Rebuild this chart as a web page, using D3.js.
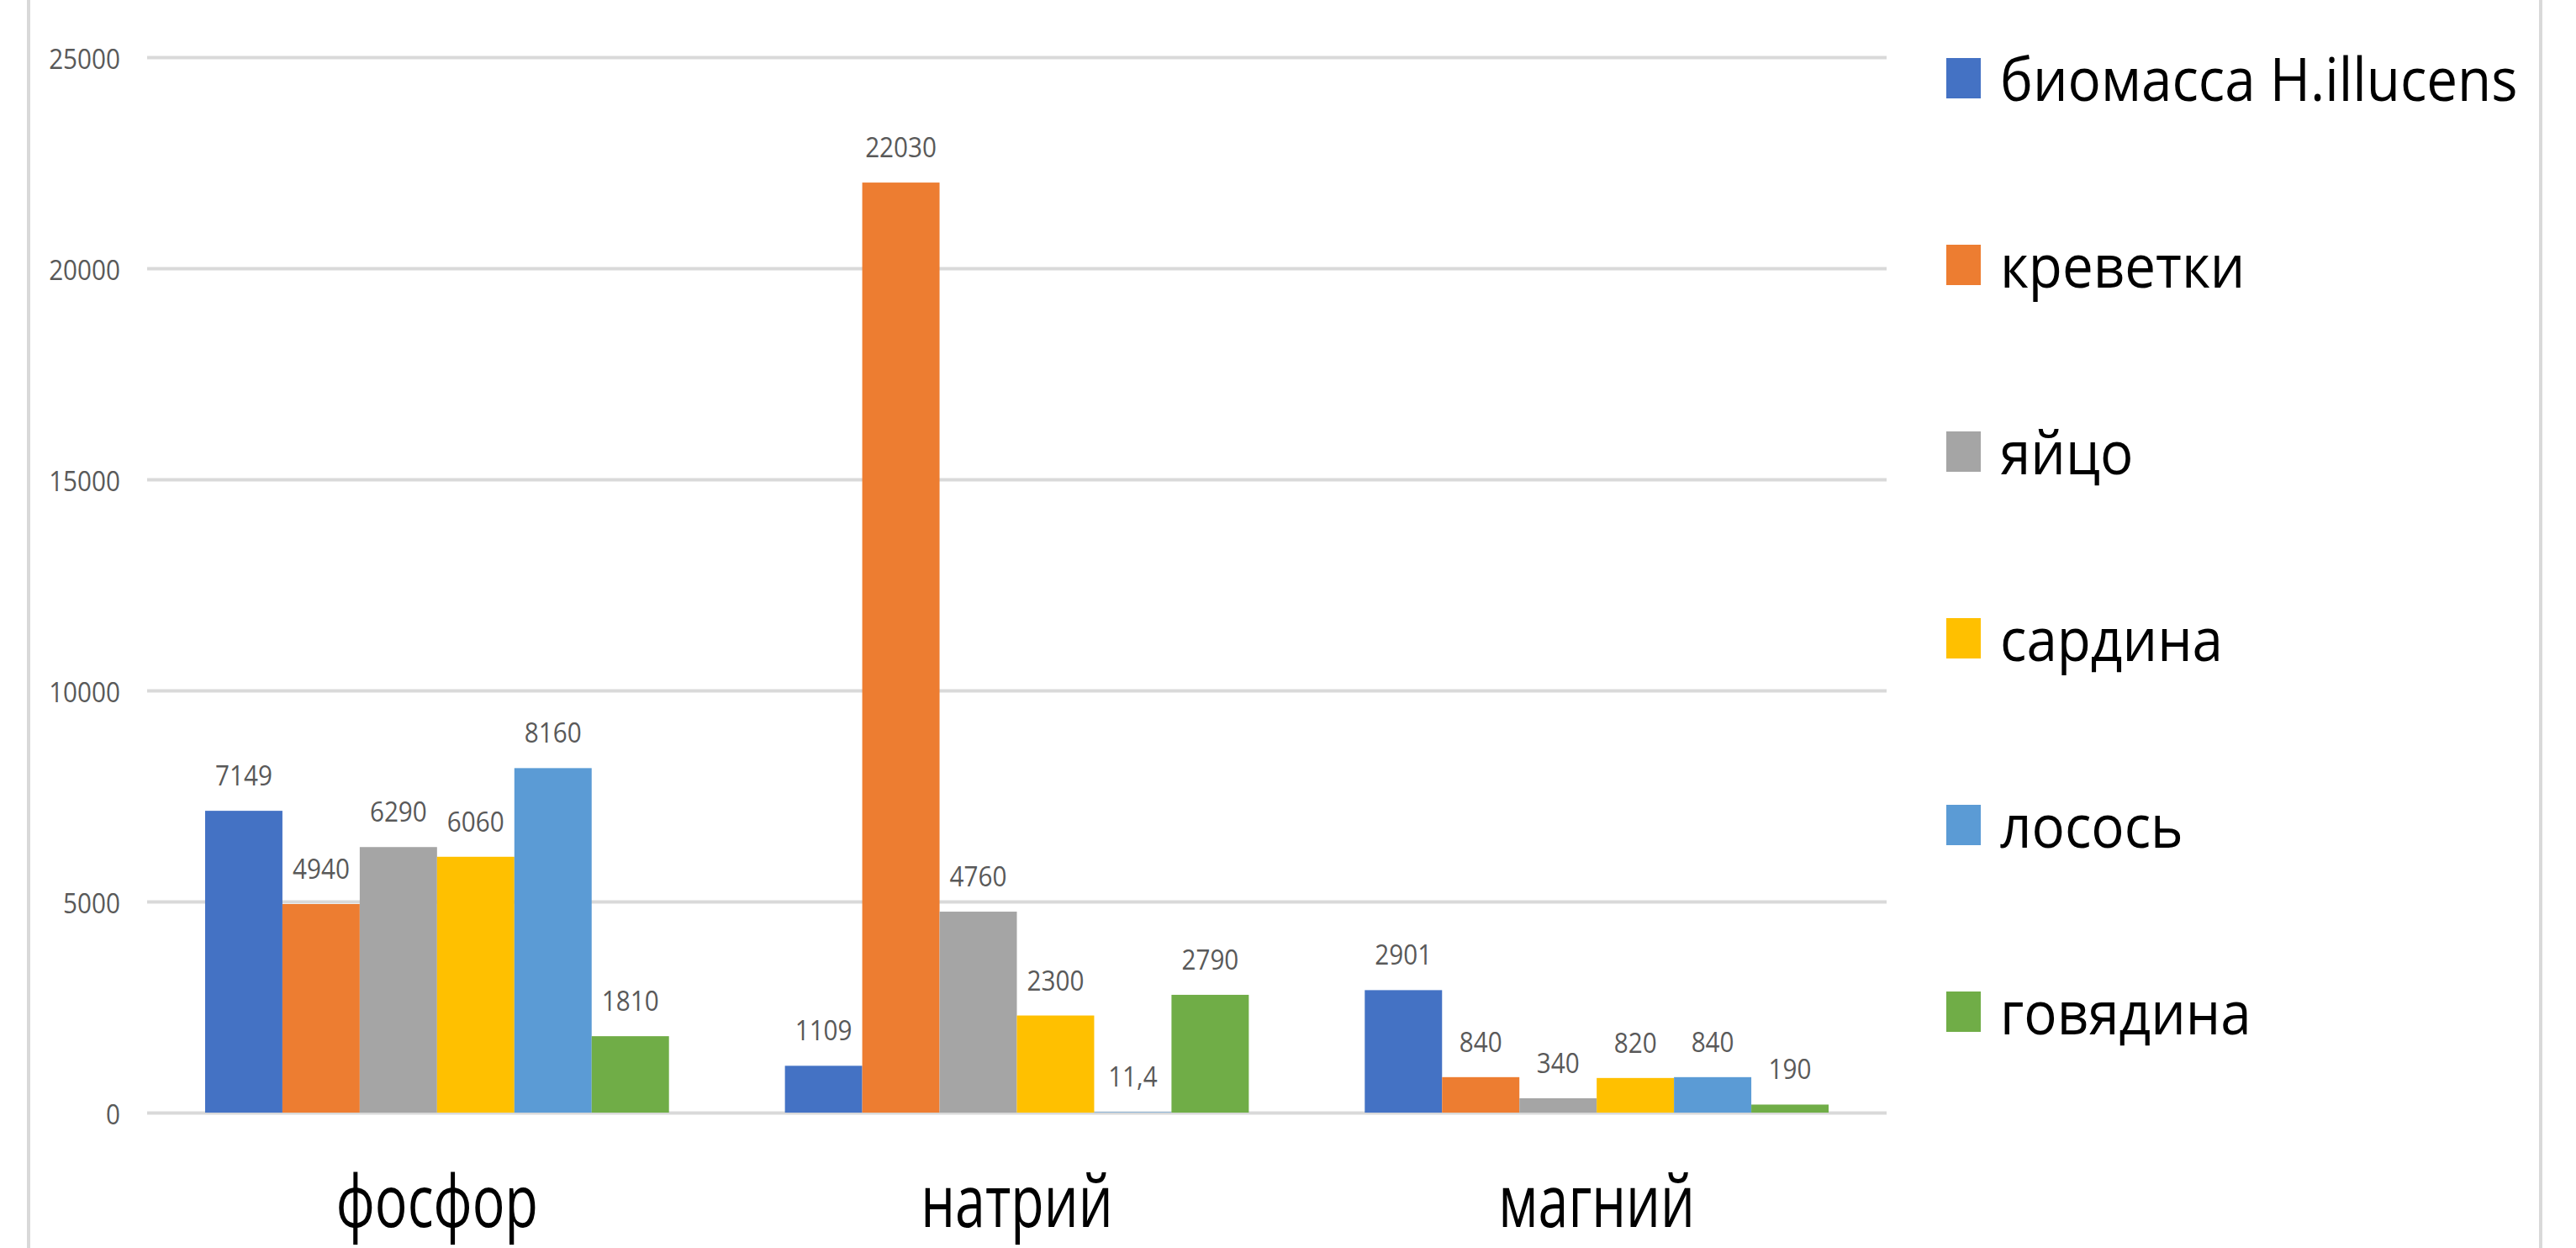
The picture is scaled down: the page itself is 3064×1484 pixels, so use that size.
<!DOCTYPE html>
<html><head><meta charset="utf-8">
<script src="https://cdn.jsdelivr.net/npm/d3@7"></script>
<style>html,body{margin:0;padding:0;background:#fff;} svg{display:block;}</style>
</head><body><svg id="chart" width="3064" height="1484"></svg>
<script>
// ---- data ----
const categories = ["фосфор", "натрий", "магний"];
const seriesNames = ["биомасса H.illucens", "креветки", "яйцо", "сардина", "лосось", "говядина"];
const seriesColors = ["#4472C4", "#ED7D31", "#A5A5A5", "#FFC000", "#5B9BD5", "#70AD47"];
const biomassValues = [7149, 1109, 2901];
const shrimpValues = [4940, 22030, 840];
const eggValues = [6290, 4760, 340];
const sardineValues = [6060, 2300, 820];
const salmonValues = [8160, 11.4, 840];
const beefValues = [1810, 2790, 190];
const yTicks = [0, 5000, 10000, 15000, 20000, 25000];

const seriesValues = [biomassValues, shrimpValues, eggValues, sardineValues, salmonValues, beefValues];

// ---- layout ----
const W = 3064, H = 1484;
const plot = {left: 175, right: 2244, top: 68, bottom: 1323};
const FONT = "'Open Sans', 'Liberation Sans', sans-serif";
const numSize = 33, numSX = 0.9;
const catSize = 86, catSX = 0.75;
const legSize = 72, legSX = 0.91;

const svg = d3.select("#chart");

const x0 = d3.scaleBand().domain(categories).range([plot.left, plot.right]).paddingInner(0).paddingOuter(0);
const x1 = d3.scaleBand().domain(d3.range(seriesNames.length)).range([0, x0.bandwidth()]).paddingInner(0).paddingOuter(0.75);
const y = d3.scaleLinear().domain([0, 25000]).range([plot.bottom, plot.top]);

// chart frame side lines
svg.append("line").attr("x1", 34).attr("x2", 34).attr("y1", 0).attr("y2", H)
  .attr("stroke", "#d9d9d9").attr("stroke-width", 4);
svg.append("line").attr("x1", 3022).attr("x2", 3022).attr("y1", 0).attr("y2", H)
  .attr("stroke", "#d9d9d9").attr("stroke-width", 4);

// gridlines + y tick labels via axis
const yAxis = d3.axisLeft(y).tickValues(yTicks).tickSize(-(plot.right - plot.left)).tickPadding(0).tickFormat(d3.format("d"));
const gy = svg.append("g").attr("transform", `translate(${plot.left},0)`).call(yAxis);
gy.select(".domain").remove();
gy.selectAll(".tick line").attr("stroke", "#d9d9d9").attr("stroke-width", 4);
gy.selectAll(".tick text")
  .attr("x", 0).attr("dy", null).attr("y", 0)
  .attr("font-family", FONT).attr("font-size", numSize).attr("fill", "#595959")
  .attr("text-anchor", "end").attr("dominant-baseline", "central")
  .attr("transform", `translate(${143 - plot.left},0) scale(${numSX},1)`);

// bars
const groups = svg.append("g").selectAll("g").data(categories).join("g")
  .attr("transform", d => `translate(${x0(d)},0)`);

const fmt = v => String(v).replace(".", ",");

groups.selectAll("rect").data((c, ci) => seriesValues.map((vals, si) => ({si, v: vals[ci]})))
  .join("rect")
  .attr("x", d => x1(d.si))
  .attr("width", x1.bandwidth())
  .attr("y", d => y(d.v))
  .attr("height", d => y(0) - y(d.v))
  .attr("fill", d => seriesColors[d.si]);

groups.selectAll("text.lbl").data((c, ci) => seriesValues.map((vals, si) => ({si, v: vals[ci]})))
  .join("text").attr("class", "lbl")
  .attr("transform", d => `translate(${x1(d.si) + x1.bandwidth() / 2},${y(d.v) - 30}) scale(${numSX},1)`)
  .attr("text-anchor", "middle")
  .attr("font-family", FONT).attr("font-size", numSize).attr("fill", "#595959")
  .text(d => fmt(d.v));

// category labels
svg.append("g").selectAll("text").data(categories).join("text")
  .attr("transform", d => `translate(${x0(d) + x0.bandwidth() / 2},1459) scale(${catSX},1)`)
  .attr("text-anchor", "middle")
  .attr("font-family", FONT).attr("font-size", catSize).attr("fill", "#000")
  .text(d => d);

// legend
const leg = svg.append("g").selectAll("g").data(seriesNames).join("g")
  .attr("transform", (d, i) => `translate(2315,${69 + i * 222})`);
leg.append("rect").attr("width", 41).attr("height", 48).attr("fill", (d, i) => seriesColors[i]);
leg.append("text")
  .attr("transform", `translate(64,51) scale(${legSX},1)`)
  .attr("font-family", FONT).attr("font-size", legSize).attr("fill", "#000")
  .text(d => d);
</script>
</body></html>
